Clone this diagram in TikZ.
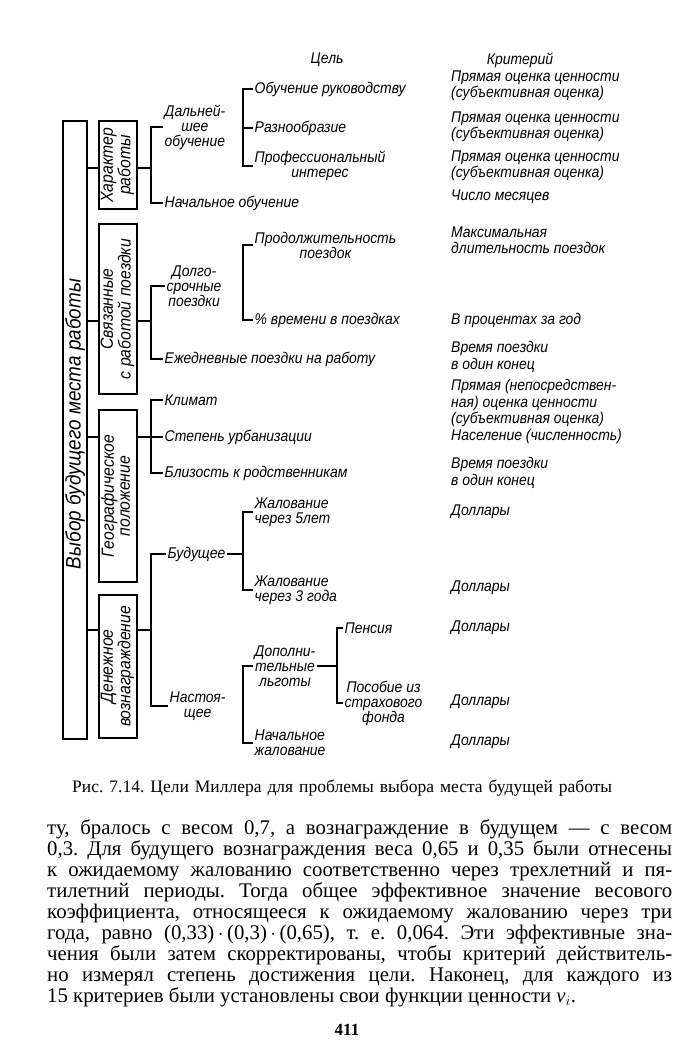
\documentclass[tikz,border=0pt]{standalone}
\usepackage{fontspec}
\setmainfont{Liberation Serif}
\newfontfamily\gost[FakeStretch=0.9]{Liberation Sans}
\usepackage{graphicx}
\frenchspacing
\begin{document}
\begin{tikzpicture}[x=1pt,y=-1pt,
  ln/.style={line width=1.2pt},
  boxn/.style={draw, line width=1.3pt, inner sep=0pt},
  goal/.style={font=\gost\itshape\fontsize{15.5}{15}\selectfont, inner sep=1.5pt, anchor=west},
  crit/.style={font=\gost\itshape\fontsize{15.5}{16.5}\selectfont, inner sep=0pt, anchor=west, align=left},
  head/.style={font=\gost\itshape\fontsize{15.5}{16}\selectfont, inner sep=0pt},
  boxtxt/.style={font=\gost\itshape\fontsize{17.5}{16}\selectfont},
  body/.style={font=\fontsize{20.8}{21}\selectfont, inner sep=0pt, anchor=west, text height=14pt, text depth=4pt}]
\useasboundingbox[fill=white] (0,0) rectangle (700,1060);

% stems
\coordinate (s1) at (151,0);
\coordinate (s2) at (243,0);
\coordinate (s3) at (337,0);
\coordinate (y1) at (0,168);
\coordinate (y2) at (0,321);
\coordinate (y4) at (0,630);

% headers
\node[head] (hgoal) at (327,60) {Цель};
\node[head] (hcrit) at (520,60) {Критерий};

% boxes
\node[boxn, minimum width=24, minimum height=618] (main) at (75,430) {};
\node[rotate=90, inner sep=0pt, font=\gost\itshape\fontsize{21}{22}\selectfont] (maintxt) at (75,424) {Выбор будущего места работы};
\node[boxn, boxtxt, minimum width=38, minimum height=88] (b1) at (118,165)
  {\rotatebox{90}{\begin{tabular}{@{}c@{}}Характер\\работы\end{tabular}}};
\node[boxn, boxtxt, minimum width=38, minimum height=170] (b2) at (118,309)
  {\rotatebox{90}{\begin{tabular}{@{}c@{}}Связанные\\с работой поездки\end{tabular}}};
\node[boxn, boxtxt, minimum width=38, minimum height=172] (b3) at (118,496)
  {\rotatebox{90}{\begin{tabular}{@{}c@{}}Географическое\\положение\end{tabular}}};
\node[boxn, boxtxt, minimum width=38, minimum height=143] (b4) at (118,666.5)
  {\rotatebox{90}{\begin{tabular}{@{}c@{}}Денежное\\вознаграждение\end{tabular}}};

% level 1 goals
\node[goal, align=center] (dal) at (163,127) {Дальней-\\шее\\обучение};
\node[goal] (nach) at (163,203) {Начальное обучение};
\node[goal, align=center] (dolg) at (165,286) {Долго-\\срочные\\поездки};
\node[goal] (ezh) at (163,359) {Ежедневные поездки на работу};
\node[goal] (klim) at (163,400) {Климат};
\node[goal] (stp) at (163,437) {Степень урбанизации};
\node[goal] (bliz) at (163,473) {Близость к родственникам};
\node[goal] (bud) at (166,554) {Будущее};
\node[goal, align=center] (nast) at (168,706) {Настоя-\\щее};

% level 2 goals
\node[goal] (obr) at (253,89) {Обучение руководству};
\node[goal] (razn) at (253,128) {Разнообразие};
\node[goal, align=center] (prof) at (253,166) {Профессиональный\\интерес};
\node[goal, align=center] (prod) at (253,245) {Продолжительность\\поездок};
\node[goal] (proc) at (253,320) {\% времени в поездках};
\node[goal, align=left] (zh5) at (253,512) {Жалование\\через 5лет};
\node[goal, align=left] (zh3) at (253,590) {Жалование\\через 3 года};
\node[goal, align=center] (dop) at (253,666) {Дополни-\\тельные\\льготы};
\node[goal, align=left] (nzh) at (253,743) {Начальное\\жалование};

% level 3 goals
\node[goal] (pens) at (343,628) {Пенсия};
\node[goal, align=center] (posob) at (343,703) {Пособие из\\страхового\\фонда};

% criteria
\node[crit] (k1) at (451,86) {Прямая оценка ценности\\(субъективная оценка)};
\node[crit] (k2) at (451,127) {Прямая оценка ценности\\(субъективная оценка)};
\node[crit] (k3) at (451,166) {Прямая оценка ценности\\(субъективная оценка)};
\node[crit] (k4) at (451,197) {Число месяцев};
\node[crit] (k5) at (451,240) {Максимальная\\длительность поездок};
\node[crit] (k6) at (451,320) {В процентах за год};
\node[crit] (k7) at (451,357) {Время поездки\\в один конец};
\node[crit] (k8) at (451,403) {Прямая (непосредствен-\\ная) оценка ценности\\(субъективная оценка)};
\node[crit] (k9) at (451,436) {Население (численность)};
\node[crit] (k10) at (451,473) {Время поездки\\в один конец};
\node[crit] (k11) at (451,512) {Доллары};
\node[crit] (k12) at (451,588) {Доллары};
\node[crit] (k13) at (451,628) {Доллары};
\node[crit] (k14) at (451,702) {Доллары};
\node[crit] (k15) at (451,742) {Доллары};

% connectors main -> boxes
\draw[ln] (main.east |- y1) -- (b1.west |- y1);
\draw[ln] (main.east |- y2) -- (b2.west |- y2);
\draw[ln] (main.east |- stp.west) -- (b3.west |- stp.west);
\draw[ln] (main.east |- y4) -- (b4.west |- y4);

% box 1
\draw[ln] (b1.east |- y1) -- (s1 |- y1);
\draw[ln] (dal.west) -| (s1 |- nach.west) -- (nach.west);
\draw[ln] (obr.west) -| (s2 |- prof.west) -- (prof.west);
\draw[ln] (s2 |- razn.west) -- (razn.west);

% box 2
\draw[ln] (b2.east |- y2) -- (s1 |- y2);
\draw[ln] (dolg.west) -| (s1 |- ezh.west) -- (ezh.west);
\draw[ln] (prod.west) -| (s2 |- proc.west) -- (proc.west);

% box 3
\draw[ln] (b3.east |- stp.west) -- (stp.west);
\draw[ln] (klim.west) -| (s1 |- bliz.west) -- (bliz.west);

% box 4
\draw[ln] (b4.east |- y4) -- (s1 |- y4);
\draw[ln] (bud.west) -| (s1 |- nast.west) -- (nast.west);
\draw[ln] (bud.east) -- (s2 |- bud.east);
\draw[ln] (zh5.west) -| (s2 |- zh3.west) -- (zh3.west);
\draw[ln] (dop.west) -| (s2 |- nzh.west) -- (nzh.west);
\draw[ln] (dop.east) -- (s3 |- dop.east);
\draw[ln] (pens.west) -| (s3 |- posob.west) -- (posob.west);

% caption
\node[inner sep=0pt, anchor=west, font=\fontsize{17.5}{19}\selectfont] (cap) at (72,788)
  {\makebox[540pt][s]{Рис. 7.14. Цели Миллера для проблемы выбора места будущей работы}};

% body text
\node[body] (t1) at (47,829) {\makebox[625pt][s]{ту, бралось с весом 0,7, а вознаграждение в будущем — с весом}};
\node[body] (t2) at (47,850) {\makebox[625pt][s]{0,3. Для будущего вознаграждения веса 0,65 и 0,35 были отнесены}};
\node[body] (t3) at (47,871) {\makebox[625pt][s]{к ожидаемому жалованию соответственно через трехлетний и пя-}};
\node[body] (t4) at (47,892) {\makebox[625pt][s]{тилетний периоды. Тогда общее эффективное значение весового}};
\node[body] (t5) at (47,913) {\makebox[625pt][s]{коэффициента, относящееся к ожидаемому жалованию через три}};
\node[body] (t6) at (47,934) {\makebox[625pt][s]{года, равно (0,33)\,$\cdot$\,(0,3)\,$\cdot$\,(0,65), т. е. 0,064. Эти эффективные зна-}};
\node[body] (t7) at (47,955) {\makebox[625pt][s]{чения были затем скорректированы, чтобы критерий действитель-}};
\node[body] (t8) at (47,976) {\makebox[625pt][s]{но измерял степень достижения цели. Наконец, для каждого из}};
\node[body] (t9) at (47,997) {15 критериев были установлены свои функции ценности \textit{v}$_i$.};

\node[inner sep=0pt, font=\bfseries\fontsize{17}{18}\selectfont] (pg) at (347,1030) {411};
\end{tikzpicture}
\end{document}
